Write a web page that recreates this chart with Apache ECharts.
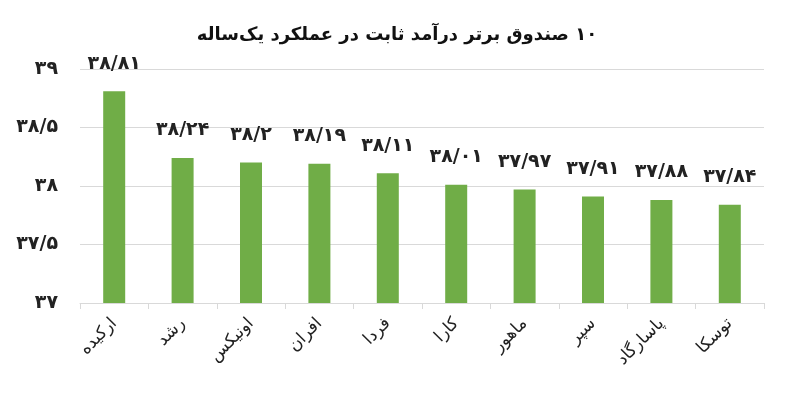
<!DOCTYPE html>
<html><head><meta charset="utf-8">
<script src="https://cdn.jsdelivr.net/npm/echarts@6/dist/echarts.min.js"></script>
<style>html,body{margin:0;padding:0;background:#fff}#c{width:794px;height:400px;direction:rtl}</style>
</head><body><div id="c" dir="rtl"></div>
<script>
const titleText = '۱۰ صندوق برتر درآمد ثابت در عملکرد یک‌ساله';
const categories = ['ارکیده','رشد','اونیکس','افران','فردا','کارا','ماهور','سپر','پاسارگاد','توسکا'];
const values = [38.81, 38.24, 38.2, 38.19, 38.11, 38.01, 37.97, 37.91, 37.88, 37.84];
const yMin = 37, yMax = 39, yStep = 0.5;

function fa(v){
  const d='۰۱۲۳۴۵۶۷۸۹';
  let s = String(Math.round(v*100)/100);
  return s.replace(/[0-9]/g, c=>d[+c]).replace('.', '/');
}
const FONT = '"DejaVu Sans", sans-serif';
const chart = echarts.init(document.getElementById('c'));
chart.setOption({
  animation:false,
  title:{text:titleText,left:'center',top:21,textStyle:{fontFamily:FONT,fontWeight:'bold',fontSize:18,color:'#111'}},
  grid:{left:80,right:30,top:69,bottom:97},
  xAxis:{type:'category',data:categories,
    axisLine:{lineStyle:{color:'#d9d9d9'}},
    axisTick:{show:true,length:6,lineStyle:{color:'#d9d9d9'}},
    axisLabel:{rotate:45,fontFamily:FONT,fontSize:17,color:'#222',margin:18}},
  yAxis:{type:'value',min:yMin,max:yMax,interval:yStep,
    axisLine:{show:false},axisTick:{show:false},
    splitLine:{lineStyle:{color:'#d9d9d9'}},
    axisLabel:{fontFamily:FONT,fontWeight:'bold',fontSize:19,color:'#222',margin:22,formatter:v=>fa(v)}},
  series:[{type:'bar',data:values,barWidth:22,
    itemStyle:{color:'#70AD47'},
    label:{show:true,position:'top',distance:18,fontFamily:FONT,fontWeight:'bold',fontSize:19,color:'#222',formatter:p=>fa(p.value)}}]
});
</script></body></html>
